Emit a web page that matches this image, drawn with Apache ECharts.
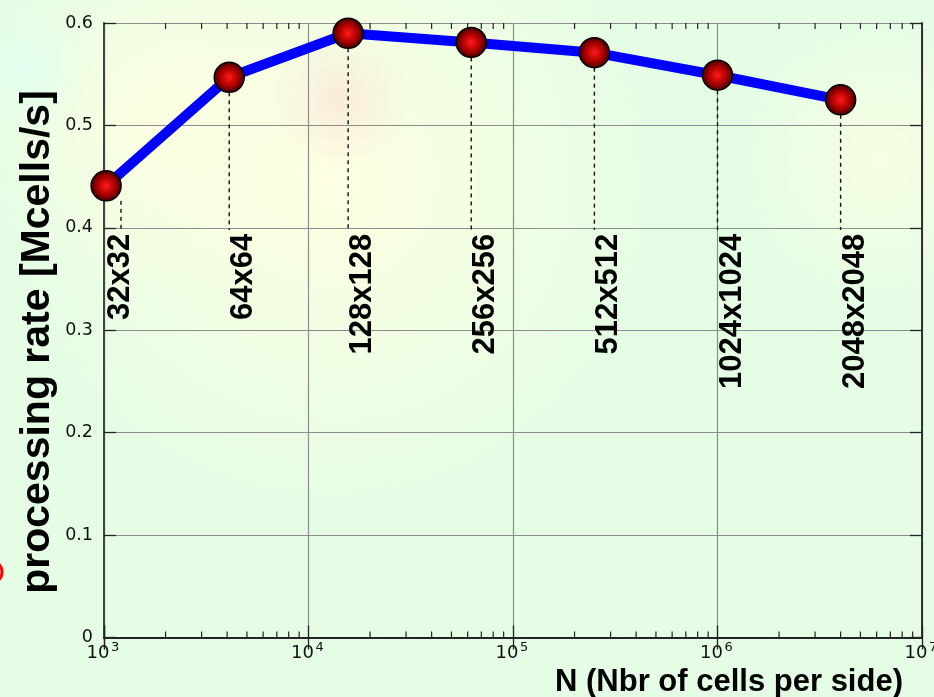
<!DOCTYPE html>
<html>
<head>
<meta charset="utf-8">
<script src="https://cdn.jsdelivr.net/npm/echarts@6/dist/echarts.min.js"></script>
<style>
html,body{margin:0;padding:0;background:#e5fde5;overflow:hidden;}
#chart{width:934px;height:697px;}
</style>
</head>
<body>
<div id="chart"></div>
<script>
// ---- data ----
const sizeLabels = ['32x32', '64x64', '128x128', '256x256', '512x512', '1024x1024', '2048x2048'];
const cellsN = [1024, 4096, 15625, 62500, 250000, 1000000, 4000000];
const rates = [0.441, 0.547, 0.590, 0.581, 0.571, 0.549, 0.525];
const guideN = [1211, 4096, 15625, 62500, 250000, 1000000, 4000000];
const xTickValues = [1000, 10000, 100000, 1000000, 10000000];
const xTickBase = '10';
const xTickExp = ['3', '4', '5', '6', '7'];
const xMin = 1000, xMax = 10000000;
const yMin = 0, yMax = 0.6, yStep = 0.1;
const guideBottom = 0.398;
const labelValue = 0.4;
const xTitle = 'N (Nbr of cells per side)';
const yTitle = 'processing rate [Mcells/s]';

// minor tick positions of the log axis (2..9 x 10^d)
const minorTicks = [];
for (let d = 3; d < 7; d++) for (let k = 2; k <= 9; k++) minorTicks.push(k * Math.pow(10, d));

const chart = echarts.init(document.getElementById('chart'), null, {renderer: 'canvas', width: 934, height: 697});

const boldFont = 'bold 31px "Liberation Sans", Arial, sans-serif';
const tickFont = '"DejaVu Sans", sans-serif';

function radial(cx, cy, r, c0, c1) {
  return {
    type: 'circle', silent: true, z: -10,
    shape: {cx: cx, cy: cy, r: r},
    style: {fill: new echarts.graphic.RadialGradient(0.5, 0.5, 0.5, [
      {offset: 0, color: c0}, {offset: 1, color: c1}])}
  };
}

const option = {
  backgroundColor: '#e5fde5',
  animation: false,
  grid: {left: 104, top: 23, width: 818, height: 614.5, containLabel: false, outerBoundsMode: 'none'},
  graphic: [
    radial(330, 180, 330, 'rgba(255,255,225,0.95)', 'rgba(255,255,225,0)'),
    radial(160, 120, 180, 'rgba(255,255,225,0.8)', 'rgba(255,255,225,0)'),
    radial(880, 160, 140, 'rgba(255,255,225,0.7)', 'rgba(255,255,225,0)'),
    radial(340, 100, 70, 'rgba(255,200,200,0.35)', 'rgba(255,200,200,0)'),
    radial(30, 70, 60, 'rgba(220,255,245,0.6)', 'rgba(220,255,245,0)'),
    {
      type: 'circle', silent: true, z: -5,
      shape: {cx: -9, cy: 572, r: 11},
      style: {fill: 'none', stroke: '#ff0000', lineWidth: 3}
    },
    {
      type: 'text', z: 10,
      x: 729, y: 682,
      style: {text: xTitle, font: 'bold 31px "Liberation Sans", Arial, sans-serif',
              fill: '#000', align: 'center', verticalAlign: 'middle'}
    },
    {
      type: 'text', z: 10,
      x: 38, y: 342, rotation: Math.PI / 2,
      style: {text: yTitle, font: 'bold 41px "Liberation Sans", Arial, sans-serif',
              fill: '#000', align: 'center', verticalAlign: 'middle'}
    }
  ],
  xAxis: [
    {
      type: 'log', logBase: 10, min: xMin, max: xMax, position: 'bottom',
      axisLine: {show: true, lineStyle: {color: '#222', width: 1.8}},
      axisTick: {show: true, inside: true, length: 12, lineStyle: {color: '#222', width: 1.3}},
      splitLine: {show: true, lineStyle: {color: '#8c8c8c', width: 1.2}},
      axisLabel: {show: false}
    },
    {
      type: 'log', logBase: 10, min: xMin, max: xMax, position: 'top',
      axisLine: {show: true, lineStyle: {color: '#222', width: 1.8}},
      axisTick: {show: true, inside: true, length: 12, lineStyle: {color: '#222', width: 1.3}},
      splitLine: {show: false},
      axisLabel: {show: false}
    }
  ],
  yAxis: [
    {
      type: 'value', min: yMin, max: yMax, interval: yStep, position: 'left',
      axisLine: {show: true, lineStyle: {color: '#444', width: 2}},
      axisTick: {show: true, inside: true, length: 12, lineStyle: {color: '#222', width: 1.3}},
      splitLine: {show: true, lineStyle: {color: '#8c8c8c', width: 1.2}},
      axisLabel: {
        margin: 11, fontFamily: tickFont, fontSize: 17.5, color: '#111',
        formatter: function (v) { return v === 0 ? '0' : v.toFixed(1); }
      }
    },
    {
      type: 'value', min: yMin, max: yMax, interval: yStep, position: 'right',
      axisLine: {show: true, lineStyle: {color: '#222', width: 1.8}},
      axisTick: {show: true, inside: true, length: 12, lineStyle: {color: '#222', width: 1.3}},
      splitLine: {show: false},
      axisLabel: {show: false}
    }
  ],
  series: [
    {
      // minor ticks on bottom and top spines
      type: 'custom', xAxisIndex: 0, yAxisIndex: 0, silent: true, clip: false, z: 3,
      data: minorTicks.map(function (v) { return [v]; }),
      renderItem: function (params, api) {
        const b = api.coord([api.value(0), yMin]);
        const t = api.coord([api.value(0), yMax]);
        const st = {stroke: '#222', lineWidth: 1.2};
        return {type: 'group', children: [
          {type: 'line', shape: {x1: b[0], y1: b[1], x2: b[0], y2: b[1] - 6}, style: st},
          {type: 'line', shape: {x1: t[0], y1: t[1], x2: t[0], y2: t[1] + 6}, style: st}
        ]};
      }
    },
    {
      // x tick labels 10^k
      type: 'custom', xAxisIndex: 0, yAxisIndex: 0, silent: true, clip: false, z: 6,
      data: xTickValues.map(function (v, i) { return [v, yMin, i]; }),
      renderItem: function (params, api) {
        const p = api.coord([api.value(0), api.value(1)]);
        const i = api.value(2);
        return {type: 'group', children: [
          {type: 'text', x: p[0] + 5.5, y: p[1] + 16,
           style: {text: xTickBase, font: '18px ' + tickFont, fill: '#111',
                   align: 'right', verticalAlign: 'middle'}},
          {type: 'text', x: p[0] + 7, y: p[1] + 10,
           style: {text: xTickExp[i], font: '13px ' + tickFont, fill: '#111',
                   align: 'left', verticalAlign: 'middle'}}
        ]};
      }
    },
    {
      // dashed guide lines
      type: 'custom', xAxisIndex: 0, yAxisIndex: 0, silent: true, z: 4,
      data: guideN.map(function (n, i) { return [n, rates[i]]; }),
      renderItem: function (params, api) {
        const top = api.coord([api.value(0), api.value(1)]);
        const bot = api.coord([api.value(0), guideBottom]);
        return {type: 'line',
          shape: {x1: top[0], y1: top[1] + 15, x2: bot[0], y2: bot[1]},
          style: {stroke: '#111', lineWidth: 1.4, lineDash: [4, 4]}};
      }
    },
    {
      // rotated size labels
      type: 'custom', xAxisIndex: 0, yAxisIndex: 0, silent: true, z: 5,
      data: cellsN.map(function (n, i) { return [n, labelValue, i]; }),
      renderItem: function (params, api) {
        const p = api.coord([api.value(0), api.value(1)]);
        return {type: 'text', x: p[0] - 1, y: p[1] + 6, rotation: Math.PI / 2,
          style: {text: sizeLabels[api.value(2)], font: boldFont, fill: '#000',
                  align: 'right', verticalAlign: 'top'}};
      }
    },
    {
      type: 'line', xAxisIndex: 0, yAxisIndex: 0, z: 10,
      data: cellsN.map(function (n, i) { return [n, rates[i]]; }),
      lineStyle: {color: '#0000ff', width: 10},
      symbol: 'circle', symbolSize: 30,
      itemStyle: {
        color: new echarts.graphic.RadialGradient(0.5, 0.5, 0.5, [
          {offset: 0, color: '#ff1a1a'},
          {offset: 0.55, color: '#b00000'},
          {offset: 1, color: '#3c0000'}
        ]),
        borderColor: '#000', borderWidth: 1.5
      },
      emphasis: {disabled: true}
    }
  ]
};
chart.setOption(option);
</script>
</body>
</html>
